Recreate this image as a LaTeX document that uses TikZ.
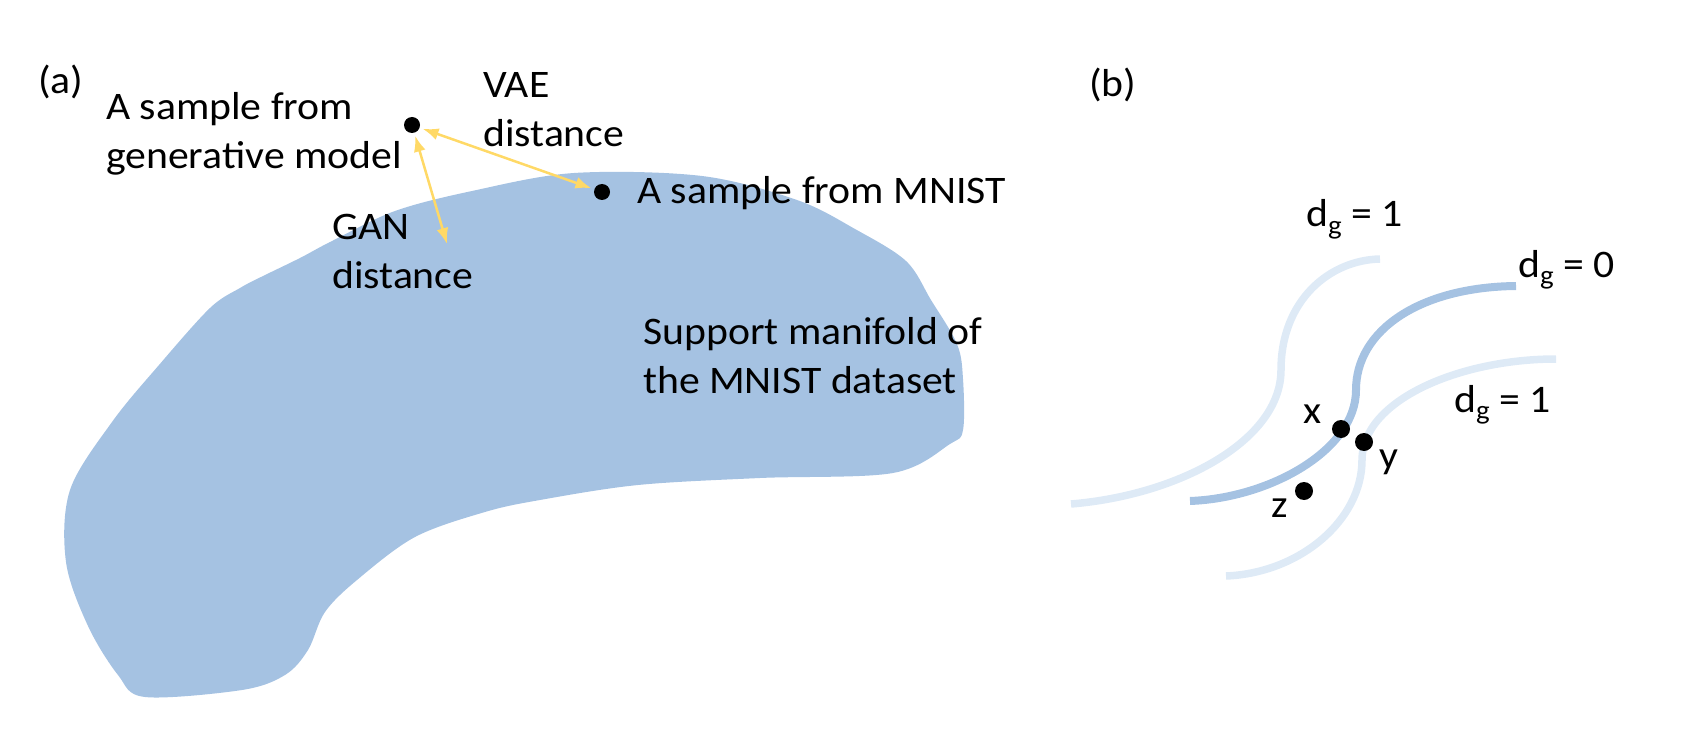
\documentclass[tikz,border=0pt]{standalone}
\usepackage{fontspec}
\setmainfont{Carlito}[FakeStretch=1.07]
\usetikzlibrary{arrows.meta}
\definecolor{blobblue}{RGB}{165,194,226}
\definecolor{lightblue}{RGB}{222,234,246}
\definecolor{gold}{RGB}{255,217,102}
\newcommand{\subg}{\raisebox{-7pt}{\fontsize{27}{27}\selectfont g}}
\tikzset{
  lbl/.style={inner sep=0pt, anchor=west, align=left, font=\fontsize{39}{49}\selectfont},
  dotA/.style={circle, fill=black, inner sep=0pt, minimum size=16pt},
  dotB/.style={circle, fill=black, inner sep=0pt, minimum size=18pt},
  dist/.style={gold, line width=2.5pt, {Latex[length=16pt,width=12pt]}-{Latex[length=16pt,width=12pt]}},
  darkcurve/.style={blobblue, line width=8pt},
  lightcurve/.style={lightblue, line width=7.5pt}
}
\begin{document}
\begin{tikzpicture}[x=1pt,y=-1pt]
\useasboundingbox (0,0) rectangle (1708,754);
% manifold blob
\fill[blobblue] plot[smooth cycle, tension=0.55] coordinates {
 (261,277) (300,258) (332,241) (395,211) (472,191) (574,173) (702,176)
 (797,200) (855,229) (906,261) (931,300) (957,344) (963,379) (963,430)
 (950,444) (893,473) (760,478) (638,485) (540,500) (485,512) (415,537) (357,580)
 (325,612) (308,650) (285,675) (242,690) (145,697) (118,675) (88,626)
 (66,562) (70,490) (112,422) (159,365) (210,308) (240,288)};
% part (a)
\node[lbl] (la) at (38,82) {(a)};
\node[lbl] (gen) at (106,134) {A sample from\\generative model};
\node[lbl] (vae) at (483,110) {VAE\\distance};
\node[lbl] (gan) at (332,251) {GAN\\distance};
\node[lbl] (mn) at (637,193) {A sample from MNIST};
\node[lbl] (sup) at (643,356) {Support manifold of\\the MNIST dataset};
\node[dotA] (d1) at (412,125) {};
\node[dotA] (d2) at (602,192) {};
\coordinate (ganend) at (447,244);
\draw[dist, shorten <=3pt, shorten >=3pt] (d1) -- (d2);
\draw[dist, shorten <=3pt] (d1) -- (ganend);
% part (b)
\node[lbl] (lb) at (1089,85) {(b)};
\draw[lightcurve] (1071,504) .. controls (1180,495) and (1281,440) .. (1281,370)
  .. controls (1281,300) and (1330,260) .. (1380,259);
\draw[lightcurve] (1226,576) .. controls (1300,573) and (1362,520) .. (1362,460)
  .. controls (1362,400) and (1460,359) .. (1556,359);
\draw[darkcurve] (1190,501) .. controls (1270,498) and (1356,450) .. (1356,390)
  .. controls (1356,330) and (1420,287) .. (1516,286);
\node[dotB] (x) at (1341,429) {};
\node[dotB] (y) at (1364,442) {};
\node[dotB] (z) at (1304,491) {};
\node[lbl, anchor=center] (lx) at (1313,414) {x};
\node[lbl, anchor=center] (ly) at (1389,462) {y};
\node[lbl, anchor=center] (lz) at (1280,508) {z};
\node[lbl, anchor=base west] (g1) at (1306,227) {d\subg{} = 1};
\node[lbl, anchor=base west] (g0) at (1518,277) {d\subg{} = 0};
\node[lbl, anchor=base west] (g2) at (1454,412) {d\subg{} = 1};
\end{tikzpicture}
\end{document}
